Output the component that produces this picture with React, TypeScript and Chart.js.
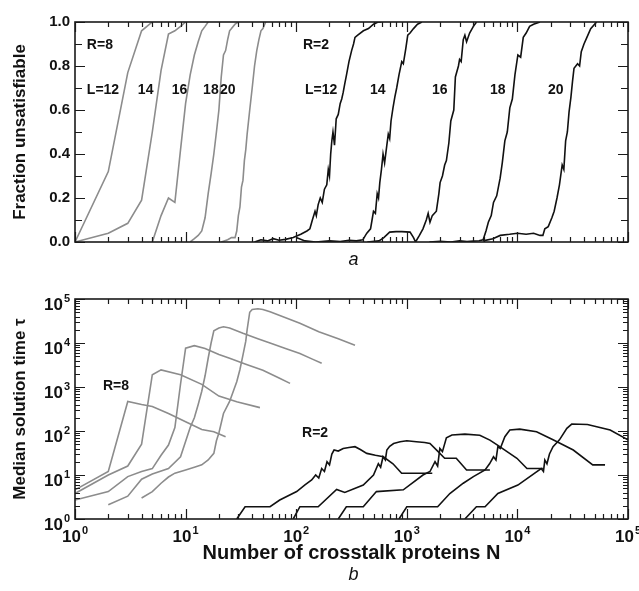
import React, { useEffect, useRef } from 'react';
import { Chart, registerables } from 'chart.js';
Chart.register(...registerables);

const FONT = '"Liberation Sans", Arial, Helvetica, sans-serif';
const GRAY = '#8c8c8c';
const BLACK = '#111111';

// ---------- Panel a: fraction unsatisfiable ----------
// R = 8 (gray)
const a8L12N = [1, 2, 3, 4, 5];
const a8L12F = [0, 0.32, 0.77, 0.96, 1.0];
const a8L14N = [1, 2, 3, 4, 5, 6, 7, 8, 9, 10];
const a8L14F = [0, 0.04, 0.085, 0.19, 0.5, 0.78, 0.945, 0.96, 0.98, 1.0];
const a8L16N = [5, 6, 7, 8, 9, 10, 11, 12, 13, 14, 15, 16];
const a8L16F = [0, 0.12, 0.2, 0.18, 0.42, 0.63, 0.76, 0.85, 0.91, 0.96, 0.98, 1.0];
const a8L18N = [11, 12, 13, 14, 15, 16, 17, 18, 19, 20, 21, 22, 23, 24, 25, 26, 28, 30];
const a8L18F = [0, 0.015, 0.03, 0.05, 0.11, 0.22, 0.31, 0.4, 0.5, 0.6, 0.75, 0.85, 0.87, 0.92, 0.96, 0.97, 0.99, 1.0];
const a8L20N = [21, 24, 26, 28, 29, 30, 31, 32, 33, 34, 35, 36, 38, 40, 42, 44, 46, 48, 50, 53];
const a8L20F = [0, 0.01, 0.02, 0.02, 0.05, 0.12, 0.16, 0.25, 0.28, 0.37, 0.42, 0.49, 0.6, 0.7, 0.8, 0.87, 0.92, 0.96, 0.97, 1.0];
// R = 2 (black)
const a2L12N = [42, 48, 55, 62, 70, 80, 94, 110, 125, 133, 140, 148, 152, 158, 165, 172, 180, 189, 195, 200, 205, 210, 215, 222, 230, 240, 250, 258, 266, 275, 285, 300, 317, 330, 340, 360, 405, 450, 500, 550, 590];
const a2L12F = [0, 0.01, 0.005, 0.015, 0.008, 0.012, 0.02, 0.035, 0.05, 0.06, 0.1, 0.14, 0.12, 0.17, 0.2, 0.18, 0.24, 0.26, 0.33, 0.3, 0.4, 0.46, 0.5, 0.44, 0.56, 0.58, 0.63, 0.65, 0.68, 0.72, 0.76, 0.82, 0.87, 0.9, 0.93, 0.94, 0.96, 0.97, 0.99, 1.0, 1.0];
const a2L14N = [100, 120, 150, 200, 250, 300, 350, 400, 435, 470, 485, 500, 520, 540, 555, 570, 590, 610, 630, 660, 680, 700, 720, 750, 780, 810, 850, 900, 930, 980, 1020, 1070, 1150, 1250, 1370];
const a2L14F = [0.02, 0.005, 0, 0.005, 0.002, 0.008, 0.005, 0.01, 0.04, 0.06, 0.1, 0.14, 0.13, 0.22, 0.2, 0.27, 0.33, 0.4, 0.36, 0.44, 0.49, 0.47, 0.55, 0.61, 0.66, 0.7, 0.76, 0.82, 0.81, 0.88, 0.94, 0.95, 0.97, 0.99, 1.0];
const a2L16N = [440, 560, 620, 700, 800, 900, 1070, 1150, 1200, 1300, 1400, 1500, 1560, 1620, 1700, 1850, 1950, 2000, 2100, 2200, 2280, 2400, 2500, 2660, 2750, 2930, 3000, 3100, 3240, 3350, 3470, 3700, 4000, 4270];
const a2L16F = [0, 0.005, 0.02, 0.045, 0.047, 0.047, 0.045, 0.02, 0, 0.03, 0.06, 0.1, 0.13, 0.09, 0.12, 0.14, 0.22, 0.27, 0.3, 0.35, 0.37, 0.45, 0.55, 0.6, 0.75, 0.8, 0.83, 0.82, 0.92, 0.94, 0.91, 0.95, 0.98, 1.0];
const a2L18N = [1600, 2000, 2500, 3000, 3500, 4000, 4500, 4900, 5200, 5460, 5800, 6080, 6500, 6980, 7300, 7700, 8100, 8540, 9000, 9500, 10100, 10700, 11300, 12000, 12900, 14000, 16000];
const a2L18F = [0, 0.003, 0, 0.005, 0.002, 0.004, 0.006, 0.01, 0.05, 0.09, 0.12, 0.18, 0.21, 0.29, 0.36, 0.46, 0.5, 0.61, 0.65, 0.76, 0.85, 0.84, 0.93, 0.95, 0.98, 0.99, 1.0];
const a2L20N = [4900, 6000, 7000, 8500, 10000, 12000, 14000, 16000, 17000, 17700, 19000, 20500, 21500, 22800, 24000, 25400, 26300, 27300, 28300, 29300, 30500, 31500, 32500, 35000, 36500, 37800, 40000, 42500, 46000, 52000];
const a2L20F = [0.005, 0.015, 0.03, 0.035, 0.04, 0.035, 0.04, 0.03, 0.03, 0.06, 0.07, 0.11, 0.14, 0.2, 0.26, 0.35, 0.33, 0.46, 0.5, 0.59, 0.66, 0.73, 0.79, 0.81, 0.8, 0.865, 0.9, 0.93, 0.97, 1.0];

// ---------- Panel b: median solution time ----------
// R = 8 (gray)
const b8L12N = [1, 2, 3, 4, 5, 7, 10, 14, 18, 23];
const b8L12T = [4.6, 12, 470, 400, 360, 250, 163, 108, 96, 74];
const b8L14N = [1, 2, 3, 4, 5, 6, 9, 14, 20, 29, 47];
const b8L14T = [3.8, 10, 16, 50, 1900, 2450, 1900, 1150, 620, 460, 340];
const b8L16N = [1, 2, 3, 4, 5, 6, 7, 8, 9, 10, 12, 15, 20, 25, 35, 50, 70, 88];
const b8L16T = [2.7, 4.2, 9.2, 12, 14, 28, 48, 120, 1170, 7600, 8700, 7500, 5500, 4500, 3300, 2400, 1600, 1210];
const b8L18N = [2, 3, 4, 5, 7, 9, 11, 12, 13, 14, 15, 16, 17, 18, 20, 22, 25, 33, 45, 58, 80, 108, 140, 170];
const b8L18T = [2.1, 3.3, 8, 10.5, 14, 26, 120, 200, 400, 800, 1800, 4500, 10000, 19000, 22000, 23400, 22000, 16600, 12500, 10000, 7500, 5800, 4300, 3450];
const b8L20N = [4, 5, 6, 7, 8, 10, 12, 14, 16, 18, 19, 20, 22, 25, 27, 29, 31, 33, 35, 36, 38, 40, 45, 50, 58, 75, 108, 160, 240, 340];
const b8L20T = [3, 4.2, 6.5, 9, 11, 13, 15, 17, 22, 31, 60, 90, 250, 470, 800, 1320, 2500, 5300, 11000, 20000, 50000, 58000, 60000, 58000, 51000, 40000, 28000, 18000, 12500, 8900];
// R = 2 (black)
const b2L12N = [29, 34.5, 58, 71, 101, 120, 138, 150, 160, 170, 180, 190, 200, 210, 220, 240, 266, 300, 340, 380, 435, 520, 614, 750, 898, 1200, 1700];
const b2L12T = [1, 1.9, 1.9, 2.7, 4.2, 6, 7.7, 10, 8.5, 14, 12, 20, 17, 30, 37, 35, 40, 42, 44, 38, 31, 28, 26, 18, 11, 11, 11];
const b2L14N = [94, 108, 158, 232, 275, 404, 500, 553, 580, 610, 640, 660, 700, 760, 870, 1000, 1220, 1450, 1620, 1900, 2200, 2800, 3470, 5640];
const b2L14T = [1, 1.9, 1.9, 4.7, 4.0, 5.9, 10, 18, 15, 26, 22, 37, 45, 52, 57, 60, 57, 55, 52, 35, 24, 24, 13, 13];
const b2L16N = [240, 284, 404, 531, 930, 1400, 1620, 1800, 1900, 1990, 2100, 2280, 2560, 3350, 4570, 5640, 6660, 9900, 12200, 17000];
const b2L16T = [1, 1.9, 1.9, 4.2, 4.6, 10, 12, 20, 16, 40, 34, 70, 81, 85, 80, 62, 47, 24, 14, 14];
const b2L18N = [850, 1000, 1620, 1900, 2450, 3240, 4000, 5100, 5600, 6080, 6400, 6660, 7000, 7700, 8540, 10500, 14900, 21000, 32000, 48000, 62000];
const b2L18T = [1, 1.9, 1.9, 1.9, 3.8, 6.5, 9.2, 13, 18, 26, 22, 44, 40, 74, 105, 110, 96, 63, 37, 17, 17];
const b2L20N = [3350, 4260, 5100, 6660, 10100, 16400, 17200, 17700, 18500, 19500, 21000, 24000, 28000, 31000, 43000, 69000, 100000];
const b2L20T = [1, 1.9, 1.9, 3.8, 5.9, 14, 12, 22, 18, 30, 44, 63, 115, 144, 140, 105, 63];

// ---------- axes / labels ----------
const decades = [1, 10, 100, 1000, 10000, 100000];
const decadeExp = [0, 1, 2, 3, 4, 5];
const minorMult = [2, 3, 4, 5, 6, 7, 8, 9];
const fracMajor = [0, 0.2, 0.4, 0.6, 0.8, 1.0];
const fracMinor = [0.1, 0.3, 0.5, 0.7, 0.9];

const aLabelText = ['R=8', 'L=12', '14', '16', '18', '20', 'R=2', 'L=12', '14', '16', '18', '20'];
const aLabelN = [1.28, 1.28, 3.7, 7.5, 14.4, 20.5, 115, 120, 465, 1690, 5650, 18900];
const aLabelF = [0.895, 0.69, 0.69, 0.69, 0.69, 0.69, 0.895, 0.69, 0.69, 0.69, 0.69, 0.69];
const bLabelText = ['R=8', 'R=2'];
const bLabelN = [1.79, 113];
const bLabelT = [1070, 90];

const logMinor = decades.slice(0, -1).flatMap((d) => minorMult.map((m) => m * d));

function pts(xs: number[], ys: number[]) {
  return xs.map((x, i) => ({ x, y: ys[i] }));
}

function ds(xs: number[], ys: number[], color: string) {
  return {
    data: pts(xs, ys),
    borderColor: color,
    borderWidth: 1.6,
    pointRadius: 0,
    fill: false,
    tension: 0,
  };
}

function drawPow(ctx: CanvasRenderingContext2D, exp: number, x: number, baseline: number, align: 'center' | 'right') {
  const base = `bold 17px ${FONT}`;
  const sup = `bold 11px ${FONT}`;
  ctx.font = base;
  const wb = ctx.measureText('10').width;
  ctx.font = sup;
  const we = ctx.measureText(String(exp)).width;
  const total = wb + we + 1;
  const left = align === 'center' ? x - total / 2 : x - total;
  ctx.textAlign = 'left';
  ctx.textBaseline = 'alphabetic';
  ctx.font = base;
  ctx.fillText('10', left, baseline);
  ctx.font = sup;
  ctx.fillText(String(exp), left + wb + 1, baseline - 8);
}

function makeDecor(cfg: {
  yMajor: number[];
  yMinor: number[];
  labels: { t: string; n: number; v: number }[];
  powX: boolean;
  powY: boolean;
  caption: string;
  captionOffset: number;
}) {
  return {
    id: 'decor',
    afterDatasetsDraw(chart: any) {
      const { ctx, chartArea: ca } = chart;
      const xs = chart.scales.x;
      const ys = chart.scales.y;
      ctx.save();
      ctx.strokeStyle = '#1a1a1a';
      ctx.lineWidth = 1.2;
      ctx.beginPath();
      const xt = (v: number, len: number) => {
        const p = Math.round(xs.getPixelForValue(v)) + 0.5;
        ctx.moveTo(p, ca.bottom);
        ctx.lineTo(p, ca.bottom - len);
        ctx.moveTo(p, ca.top);
        ctx.lineTo(p, ca.top + len);
      };
      const yt = (v: number, len: number) => {
        const p = Math.round(ys.getPixelForValue(v)) + 0.5;
        ctx.moveTo(ca.left, p);
        ctx.lineTo(ca.left + len, p);
        ctx.moveTo(ca.right, p);
        ctx.lineTo(ca.right - len, p);
      };
      decades.forEach((v) => xt(v, 10));
      logMinor.forEach((v) => xt(v, 5));
      cfg.yMajor.forEach((v) => yt(v, 10));
      cfg.yMinor.forEach((v) => yt(v, cfg.powY ? 5 : 7));
      ctx.stroke();
      ctx.lineWidth = 1.6;
      ctx.strokeRect(ca.left, ca.top, ca.right - ca.left, ca.bottom - ca.top);

      ctx.fillStyle = '#111';
      if (cfg.powX) {
        decades.forEach((v, i) => drawPow(ctx, decadeExp[i], xs.getPixelForValue(v), ca.bottom + 23, 'center'));
      }
      if (cfg.powY) {
        decades.forEach((v, i) => drawPow(ctx, decadeExp[i], ca.left - 5, ys.getPixelForValue(v) + 11, 'right'));
      }
      ctx.font = `bold 14px ${FONT}`;
      ctx.textAlign = 'left';
      ctx.textBaseline = 'middle';
      cfg.labels.forEach((l) => {
        ctx.fillText(l.t, xs.getPixelForValue(l.n), ys.getPixelForValue(l.v));
      });
      ctx.font = `italic 18px ${FONT}`;
      ctx.textAlign = 'center';
      ctx.fillText(cfg.caption, (ca.left + ca.right) / 2 + 2, ca.bottom + cfg.captionOffset);
      ctx.restore();
    },
  };
}

export default function App() {
  const topRef = useRef<HTMLCanvasElement>(null);
  const botRef = useRef<HTMLCanvasElement>(null);

  useEffect(() => {
    const xScale = (extra: any) => ({
      type: 'logarithmic',
      min: 1,
      max: 100000,
      grid: { display: false, drawTicks: false, tickLength: 0 },
      border: { display: false },
      ticks: { display: false },
      ...extra,
    });

    const top = new Chart(topRef.current!, {
      type: 'line',
      data: {
        datasets: [
          ds(a8L12N, a8L12F, GRAY),
          ds(a8L14N, a8L14F, GRAY),
          ds(a8L16N, a8L16F, GRAY),
          ds(a8L18N, a8L18F, GRAY),
          ds(a8L20N, a8L20F, GRAY),
          ds(a2L12N, a2L12F, BLACK),
          ds(a2L14N, a2L14F, BLACK),
          ds(a2L16N, a2L16F, BLACK),
          ds(a2L18N, a2L18F, BLACK),
          ds(a2L20N, a2L20F, BLACK),
        ] as any,
      },
      options: {
        responsive: false,
        devicePixelRatio: 1,
        animation: false,
        layout: { padding: { top: 22, right: 11, bottom: 0, left: 0 } },
        plugins: { legend: { display: false }, tooltip: { enabled: false } },
        scales: {
          x: xScale({
            afterFit: (s: any) => {
              s.height = 38;
            },
          }),
          y: {
            type: 'linear',
            min: 0,
            max: 1,
            grid: { display: false, drawTicks: false, tickLength: 0 },
            border: { display: false },
            ticks: {
              stepSize: 0.2,
              padding: 5,
              color: '#111',
              font: { family: FONT, size: 15, weight: 'bold' },
              callback: (v: any) => Number(v).toFixed(1),
            },
            title: {
              display: true,
              text: 'Fraction unsatisfiable',
              color: '#111',
              font: { family: FONT, size: 17, weight: 'bold' },
              padding: { top: 10, bottom: 0 },
            },
            afterFit: (s: any) => {
              s.width = 75;
            },
          },
        },
      } as any,
      plugins: [
        makeDecor({
          yMajor: fracMajor,
          yMinor: fracMinor,
          labels: aLabelText.map((t, i) => ({ t, n: aLabelN[i], v: aLabelF[i] })),
          powX: false,
          powY: false,
          caption: 'a',
          captionOffset: 18,
        }),
      ],
    });

    const bot = new Chart(botRef.current!, {
      type: 'line',
      data: {
        datasets: [
          ds(b8L12N, b8L12T, GRAY),
          ds(b8L14N, b8L14T, GRAY),
          ds(b8L16N, b8L16T, GRAY),
          ds(b8L18N, b8L18T, GRAY),
          ds(b8L20N, b8L20T, GRAY),
          ds(b2L12N, b2L12T, BLACK),
          ds(b2L14N, b2L14T, BLACK),
          ds(b2L16N, b2L16T, BLACK),
          ds(b2L18N, b2L18T, BLACK),
          ds(b2L20N, b2L20T, BLACK),
        ] as any,
      },
      options: {
        responsive: false,
        devicePixelRatio: 1,
        animation: false,
        layout: { padding: { top: 19, right: 11, bottom: 0, left: 0 } },
        plugins: { legend: { display: false }, tooltip: { enabled: false } },
        scales: {
          x: xScale({
            title: {
              display: true,
              text: 'Number of crosstalk proteins N',
              color: '#111',
              font: { family: FONT, size: 20, weight: 'bold' },
              padding: { top: 0, bottom: 26 },
            },
            afterFit: (s: any) => {
              s.height = 72;
            },
          }),
          y: {
            type: 'logarithmic',
            min: 1,
            max: 100000,
            grid: { display: false, drawTicks: false, tickLength: 0 },
            border: { display: false },
            ticks: { display: false },
            title: {
              display: true,
              text: 'Median solution time τ',
              color: '#111',
              font: { family: FONT, size: 17, weight: 'bold' },
              padding: { top: 10, bottom: 0 },
            },
            afterFit: (s: any) => {
              s.width = 75;
            },
          },
        },
      } as any,
      plugins: [
        makeDecor({
          yMajor: decades,
          yMinor: logMinor,
          labels: bLabelText.map((t, i) => ({ t, n: bLabelN[i], v: bLabelT[i] })),
          powX: true,
          powY: true,
          caption: 'b',
          captionOffset: 56,
        }),
      ],
    });

    return () => {
      top.destroy();
      bot.destroy();
    };
  }, []);

  return (
    <div style={{ position: 'absolute', left: 0, top: 0, width: 639, height: 591, background: '#fff' }}>
      <div style={{ position: 'absolute', left: 0, top: 0, width: 639, height: 280 }}>
        <canvas ref={topRef} width={639} height={280} />
      </div>
      <div style={{ position: 'absolute', left: 0, top: 280, width: 639, height: 311 }}>
        <canvas ref={botRef} width={639} height={311} />
      </div>
    </div>
  );
}
